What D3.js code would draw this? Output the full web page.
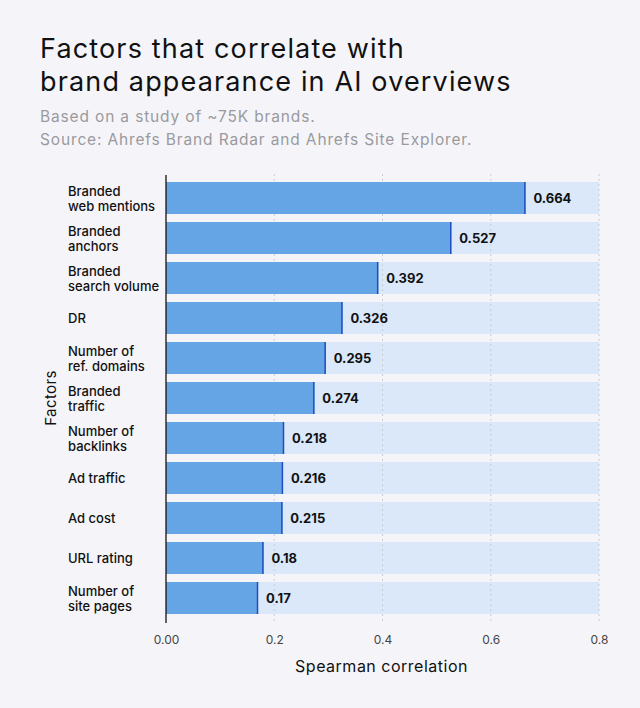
<!DOCTYPE html>
<html lang="en">
<head>
<meta charset="UTF-8" />
<title>Factors that correlate with brand appearance in AI overviews</title>
<script src="https://cdn.jsdelivr.net/npm/d3@7"></script>
<style>
  html, body { margin: 0; padding: 0; background: #f5f5f9; }
  svg { display: block; font-family: Inter, "Noto Sans", sans-serif; }
</style>
</head>
<body>
<script>
  // data
  const factors = [
    ["Branded", "web mentions"],
    ["Branded", "anchors"],
    ["Branded", "search volume"],
    ["DR"],
    ["Number of", "ref. domains"],
    ["Branded", "traffic"],
    ["Number of", "backlinks"],
    ["Ad traffic"],
    ["Ad cost"],
    ["URL rating"],
    ["Number of", "site pages"]
  ];
  const correlations = [0.664, 0.527, 0.392, 0.326, 0.295, 0.274, 0.218, 0.216, 0.215, 0.18, 0.17];
  const valueLabels = ["0.664", "0.527", "0.392", "0.326", "0.295", "0.274", "0.218", "0.216", "0.215", "0.18", "0.17"];
  const xTicks = [0, 0.2, 0.4, 0.6, 0.8];
  const xTickLabels = ["0.00", "0.2", "0.4", "0.6", "0.8"];
  const xMax = 0.8;

  const w = 640, h = 708;
  const plotLeft = 166, plotRight = 599, plotTop = 178, plotBottom = 618;

  const svg = d3.select("body").append("svg")
    .attr("width", w)
    .attr("height", h);

  svg.append("rect").attr("width", w).attr("height", h).attr("fill", "#f5f5f9");

  // titles
  const title = svg.append("text")
    .attr("x", 40).attr("y", 57.5)
    .attr("font-size", 27)
    .attr("letter-spacing", 1.15)
    .attr("fill", "#111");
  title.append("tspan").attr("x", 40).text("Factors that correlate with");
  title.append("tspan").attr("x", 40).attr("dy", 33).text("brand appearance in AI overviews");

  const sub = svg.append("text")
    .attr("x", 40).attr("y", 121.5)
    .attr("font-size", 15.5)
    .attr("letter-spacing", 0.85)
    .attr("fill", "#9a9a9e");
  sub.append("tspan").attr("x", 40).text("Based on a study of ~75K brands.");
  sub.append("tspan").attr("x", 40).attr("dy", 23).text("Source: Ahrefs Brand Radar and Ahrefs Site Explorer.");

  const x = d3.scaleLinear().domain([0, xMax]).range([plotLeft, plotRight]);
  const y = d3.scaleBand()
    .domain(d3.range(factors.length))
    .range([plotTop, plotBottom])
    .paddingInner(0.2)
    .paddingOuter(0.1);

  // background tracks
  svg.append("g").selectAll("rect")
    .data(correlations)
    .enter().append("rect")
    .attr("x", x(0))
    .attr("y", (d, i) => y(i))
    .attr("width", x(xMax) - x(0))
    .attr("height", y.bandwidth())
    .attr("fill", "#dae8fa");

  // dotted grid
  svg.append("g").selectAll("line")
    .data(xTicks.slice(1))
    .enter().append("line")
    .attr("x1", d => x(d)).attr("x2", d => x(d))
    .attr("y1", plotTop - 4).attr("y2", plotBottom + 6)
    .attr("stroke", "#c9cbd3")
    .attr("stroke-width", 1)
    .attr("stroke-dasharray", "2,3");

  // bars
  svg.append("g").selectAll("rect")
    .data(correlations)
    .enter().append("rect")
    .attr("x", x(0))
    .attr("y", (d, i) => y(i))
    .attr("width", d => x(d) - x(0))
    .attr("height", y.bandwidth())
    .attr("fill", "#66a5e5");

  // dark end cap on each bar
  svg.append("g").selectAll("line")
    .data(correlations)
    .enter().append("line")
    .attr("x1", d => x(d) - 0.5).attr("x2", d => x(d) - 0.5)
    .attr("y1", (d, i) => y(i))
    .attr("y2", (d, i) => y(i) + y.bandwidth())
    .attr("stroke", "#1d4ec0")
    .attr("stroke-width", 1.5);

  // value labels
  svg.append("g").selectAll("text")
    .data(correlations)
    .enter().append("text")
    .attr("x", d => x(d) + 8)
    .attr("y", (d, i) => y(i) + y.bandwidth() / 2)
    .attr("dy", "0.35em")
    .attr("font-size", 13)
    .attr("font-weight", 700)
    .attr("fill", "#111")
    .text((d, i) => valueLabels[i]);

  // category labels
  const cat = svg.append("g").selectAll("text")
    .data(factors)
    .enter().append("text")
    .attr("font-size", 13)
    .attr("font-weight", 500)
    .attr("fill", "#111");
  cat.each(function (lines, i) {
    const t = d3.select(this);
    const cy = y(i) + y.bandwidth() / 2;
    const y0 = lines.length > 1 ? cy - 2 : cy + 4.5;
    lines.forEach((s, k) => {
      t.append("tspan").attr("x", 68).attr("y", y0 + k * 14.5).text(s);
    });
  });

  // y axis line
  svg.append("line")
    .attr("x1", x(0)).attr("x2", x(0))
    .attr("y1", 175).attr("y2", 623)
    .attr("stroke", "#111").attr("stroke-width", 1.3);

  // x axis tick labels
  const xAxis = d3.axisBottom(x)
    .tickValues(xTicks)
    .tickSize(0)
    .tickPadding(0)
    .tickFormat((d, i) => xTickLabels[i]);
  const gx = svg.append("g")
    .attr("transform", `translate(0,${635.5})`)
    .call(xAxis);
  gx.select(".domain").remove();
  gx.selectAll("text")
    .attr("font-family", "Inter, 'Noto Sans', sans-serif")
    .attr("font-size", 12)
    .attr("fill", "#444");

  svg.append("text")
    .attr("x", (plotLeft + plotRight) / 2 - 1)
    .attr("y", 672)
    .attr("text-anchor", "middle")
    .attr("font-size", 16)
    .attr("letter-spacing", 0.5)
    .attr("fill", "#111")
    .text("Spearman correlation");

  svg.append("text")
    .attr("transform", `translate(56,${(plotTop + plotBottom) / 2}) rotate(-90)`)
    .attr("text-anchor", "middle")
    .attr("font-size", 15)
    .attr("letter-spacing", 0.4)
    .attr("fill", "#111")
    .text("Factors");
</script>
</body>
</html>
